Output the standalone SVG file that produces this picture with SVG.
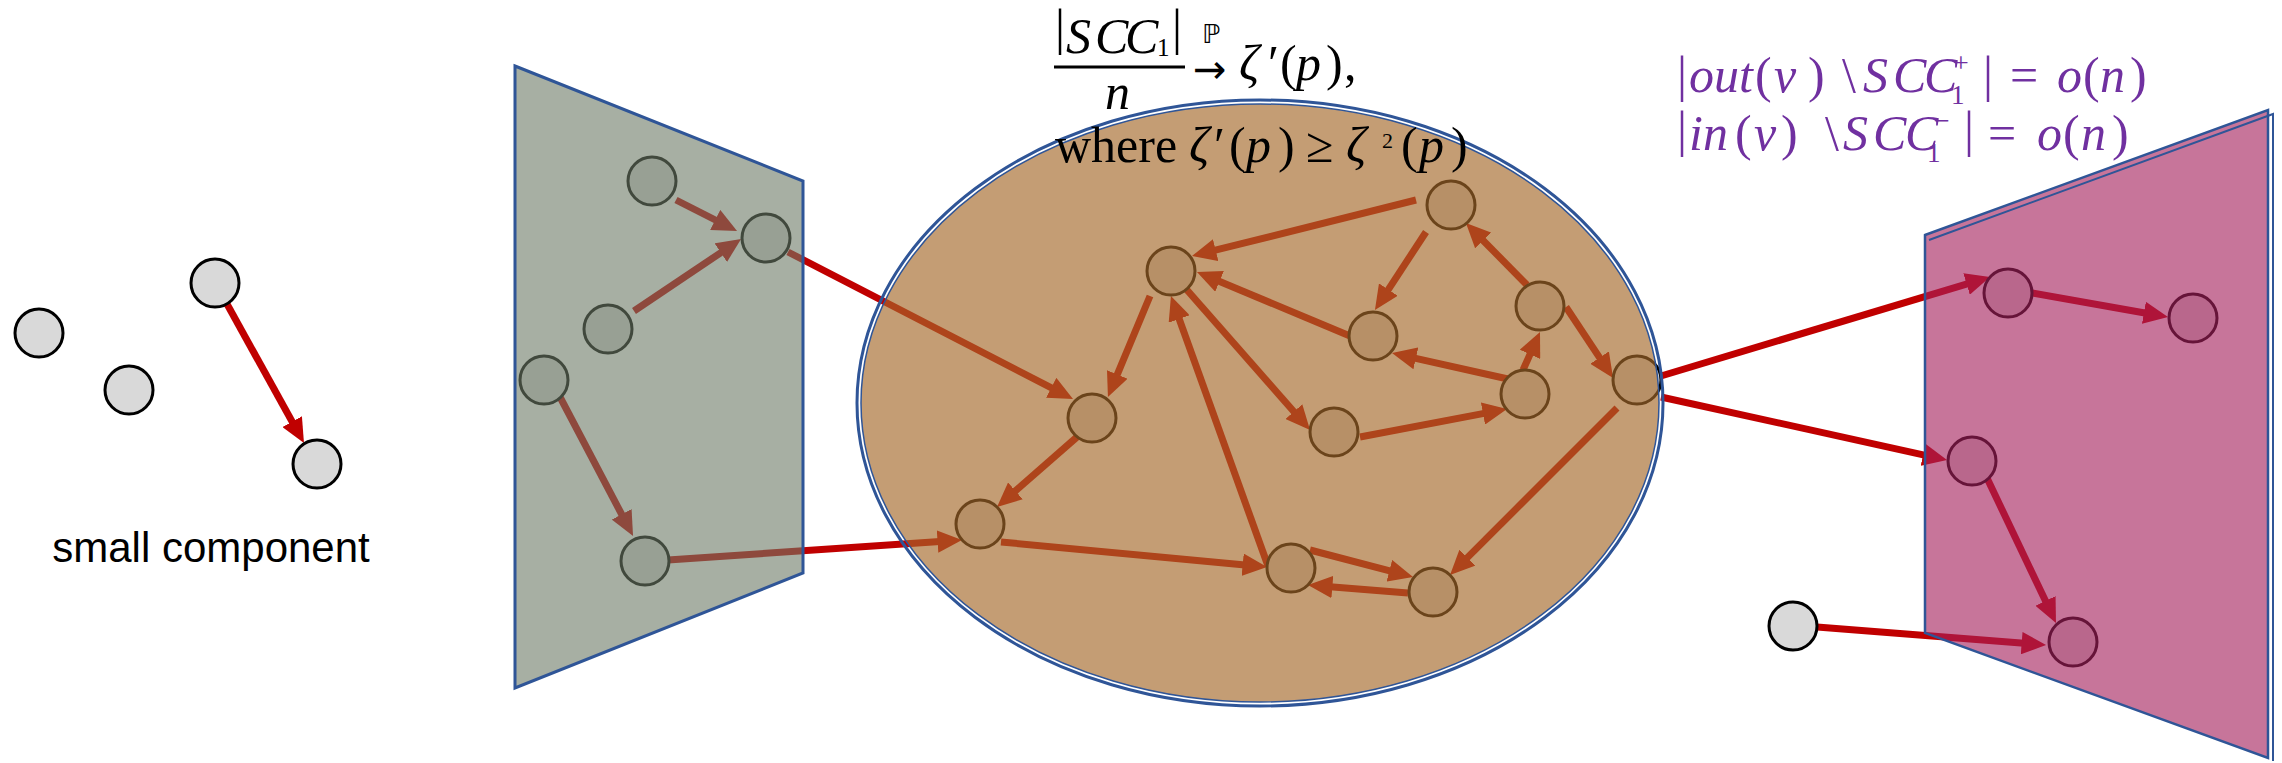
<svg xmlns="http://www.w3.org/2000/svg" width="2282" height="763" viewBox="0 0 2282 763">
<defs>
<marker id="ah" viewBox="0 0 10 10" refX="1" refY="5" markerWidth="3.5" markerHeight="3.2" preserveAspectRatio="none" orient="auto" markerUnits="strokeWidth"><path d="M0,0 L10,5 L0,10 z" fill="#C00000"/></marker>
</defs>
<style>
.edge{stroke:#C00000;stroke-width:7;fill:none;marker-end:url(#ah)}
.node{fill:#D9D9D9;stroke:#000;stroke-width:3}
.m{font-family:"Liberation Serif","DejaVu Serif",serif;font-size:50px;fill:#000}
.i{font-style:italic}
.bar{font-style:normal;font-size:50px}
.sym{font-family:"DejaVu Sans",sans-serif}
.p{fill:#7030A0}
</style>
<rect width="2282" height="763" fill="#FFFFFF"/>

<g id="connectors">
  <line class="edge" x1="227" y1="304" x2="293.3" y2="423.8"/>
  <line class="edge" x1="676" y1="200" x2="717.4" y2="221"/>
  <line class="edge" x1="634" y1="311" x2="722.8" y2="251.3"/>
  <line class="edge" x1="560" y1="397" x2="622.8" y2="516.5"/>
  <line class="edge" x1="788" y1="252" x2="1053.4" y2="388.9"/>
  <line class="edge" x1="668" y1="560" x2="940" y2="541.5"/>
  <line class="edge" x1="1416" y1="200" x2="1213.3" y2="250.7"/>
  <line class="edge" x1="1426" y1="232" x2="1387" y2="291.6"/>
  <line class="edge" x1="1527" y1="285" x2="1481.4" y2="238.7"/>
  <line class="edge" x1="1566" y1="307" x2="1600.9" y2="359.6"/>
  <line class="edge" x1="1523" y1="370" x2="1531" y2="352.1"/>
  <line class="edge" x1="1508" y1="379" x2="1413.5" y2="357.8"/>
  <line class="edge" x1="1350" y1="336" x2="1217.3" y2="280.5"/>
  <line class="edge" x1="1187" y1="290" x2="1295.5" y2="413.5"/>
  <line class="edge" x1="1360" y1="437" x2="1485.4" y2="413.1"/>
  <line class="edge" x1="1617" y1="408" x2="1465.6" y2="559.4"/>
  <line class="edge" x1="1310" y1="550" x2="1391.7" y2="571.4"/>
  <line class="edge" x1="1408" y1="593" x2="1329.9" y2="586.8"/>
  <line class="edge" x1="1268" y1="566" x2="1178.4" y2="316.7"/>
  <line class="edge" x1="1150" y1="296" x2="1116.4" y2="376.7"/>
  <line class="edge" x1="1077" y1="437" x2="1013.6" y2="492.5"/>
  <line class="edge" x1="1001" y1="542" x2="1245.1" y2="564.9"/>
  <line class="edge" x1="1661" y1="376" x2="1968.9" y2="283.3"/>
  <line class="edge" x1="1661" y1="397" x2="1925.5" y2="455.3"/>
  <line class="edge" x1="2032" y1="293" x2="2146.3" y2="313.2"/>
  <line class="edge" x1="1987" y1="478" x2="2046.5" y2="603.1"/>
  <line class="edge" x1="1817" y1="627" x2="2024.1" y2="643.3"/>
</g>

<g id="small-1"><circle class="node" cx="39" cy="333" r="24"/></g>
<g id="small-2"><circle class="node" cx="129" cy="390" r="24"/></g>
<g id="small-3"><circle class="node" cx="215" cy="283" r="24"/></g>
<g id="small-4"><circle class="node" cx="317" cy="464" r="24"/></g>

<g id="in-a"><circle class="node" cx="652" cy="181" r="24"/></g>
<g id="in-b"><circle class="node" cx="766" cy="238" r="24"/></g>
<g id="in-c"><circle class="node" cx="608" cy="329" r="24"/></g>
<g id="in-d"><circle class="node" cx="544" cy="380" r="24"/></g>
<g id="in-e"><circle class="node" cx="645" cy="561" r="24"/></g>

<g id="scc-1"><circle class="node" cx="1451" cy="205" r="24"/></g>
<g id="scc-2"><circle class="node" cx="1373" cy="336" r="24"/></g>
<g id="scc-3"><circle class="node" cx="1540" cy="306" r="24"/></g>
<g id="scc-4"><circle class="node" cx="1637" cy="380" r="24"/></g>
<g id="scc-5"><circle class="node" cx="1525" cy="394" r="24"/></g>
<g id="scc-6"><circle class="node" cx="1334" cy="432" r="24"/></g>
<g id="scc-7"><circle class="node" cx="1291" cy="568" r="24"/></g>
<g id="scc-8"><circle class="node" cx="1433" cy="592" r="24"/></g>
<g id="scc-9"><circle class="node" cx="1092" cy="418" r="24"/></g>
<g id="scc-10"><circle class="node" cx="980" cy="524" r="24"/></g>
<g id="scc-11"><circle class="node" cx="1171" cy="271" r="24"/></g>

<g id="out-1"><circle class="node" cx="2008" cy="293" r="24"/></g>
<g id="out-2"><circle class="node" cx="2193" cy="318" r="24"/></g>
<g id="out-3"><circle class="node" cx="1972" cy="461" r="24"/></g>
<g id="out-4"><circle class="node" cx="2073" cy="642" r="24"/></g>
<g id="out-feeder"><circle class="node" cx="1793" cy="626" r="24"/></g>

<g id="in-region">
  <polygon points="515,66 803,181 803,573 515,688" fill="#6D7A66" fill-opacity="0.6" stroke="#2F5597" stroke-width="3"/>
</g>
<g id="scc-region">
  <ellipse cx="1260" cy="403" rx="403" ry="303" fill="none" stroke="#2F5597" stroke-width="3"/>
  <ellipse cx="1260" cy="403" rx="399" ry="299" fill="#A5692A" fill-opacity="0.65" stroke="#2F5597" stroke-width="1.5"/>
</g>
<g id="out-region">
  <polygon points="1925,235 2268,110 2268,758 1925,633" fill="#A5205C" fill-opacity="0.62" stroke="#2F5597" stroke-width="2.5"/>
  <polyline points="1929,240 2273,114 2273,761" fill="none" stroke="#2F5597" stroke-width="2"/>
</g>

<g id="label-small">
  <text x="211" y="562" font-family="Liberation Sans, Arial, sans-serif" font-size="42" text-anchor="middle" fill="#000">small component</text>
</g>

<g id="label-scc">
  <line x1="1054" y1="67" x2="1185" y2="67" stroke="#000" stroke-width="3"/>
  <text class="m"><tspan class="bar" x="1055" y="44">|</tspan><tspan class="i" x="1066" y="53">S</tspan><tspan class="i" x="1095">C</tspan><tspan class="i" x="1125">C</tspan><tspan font-size="25" x="1157" y="56">1</tspan><tspan class="bar" x="1172" y="44">|</tspan><tspan class="sym" font-size="26" x="1202" y="43">ℙ</tspan><tspan class="sym" font-size="40" x="1193" y="83">→</tspan><tspan class="i" x="1239" y="80">ζ</tspan><tspan x="1268">′</tspan><tspan x="1280">(</tspan><tspan class="i" x="1296">p</tspan><tspan x="1326">)</tspan><tspan x="1344">,</tspan><tspan class="i" x="1105" y="109">n</tspan><tspan x="1055" y="162">where</tspan><tspan class="i" x="1189">ζ</tspan><tspan x="1214">′</tspan><tspan x="1229">(</tspan><tspan class="i" x="1246">p</tspan><tspan x="1278">)</tspan><tspan x="1306">≥</tspan><tspan class="i" x="1346">ζ</tspan><tspan font-size="22" x="1382" y="148">2</tspan><tspan x="1401" y="162">(</tspan><tspan class="i" x="1419">p</tspan><tspan x="1451">)</tspan></text>
</g>

<g id="label-out">
  <text class="m p"><tspan class="bar" x="1677" y="91">|</tspan><tspan class="i" x="1689" y="92">out</tspan><tspan x="1755">(</tspan><tspan class="i" x="1774">v</tspan><tspan x="1808">)</tspan><tspan x="1842">\</tspan><tspan class="i" x="1863">S</tspan><tspan class="i" x="1893">C</tspan><tspan class="i" x="1924">C</tspan><tspan font-size="28" x="1953" y="72">+</tspan><tspan font-size="27" x="1951" y="104">1</tspan><tspan class="bar" x="1983" y="91">|</tspan><tspan x="2010" y="92">=</tspan><tspan class="i" x="2057">o</tspan><tspan x="2083">(</tspan><tspan class="i" x="2100">n</tspan><tspan x="2130">)</tspan><tspan class="bar" x="1677" y="146">|</tspan><tspan class="i" x="1689" y="150">in</tspan><tspan x="1735">(</tspan><tspan class="i" x="1754">v</tspan><tspan x="1781">)</tspan><tspan x="1825">\</tspan><tspan class="i" x="1843">S</tspan><tspan class="i" x="1873">C</tspan><tspan class="i" x="1905">C</tspan><tspan font-size="28" x="1934" y="130">−</tspan><tspan font-size="27" x="1927" y="162">1</tspan><tspan class="bar" x="1964" y="146">|</tspan><tspan x="1988" y="150">=</tspan><tspan class="i" x="2037">o</tspan><tspan x="2063">(</tspan><tspan class="i" x="2081">n</tspan><tspan x="2112">)</tspan></text>
</g>
</svg>
